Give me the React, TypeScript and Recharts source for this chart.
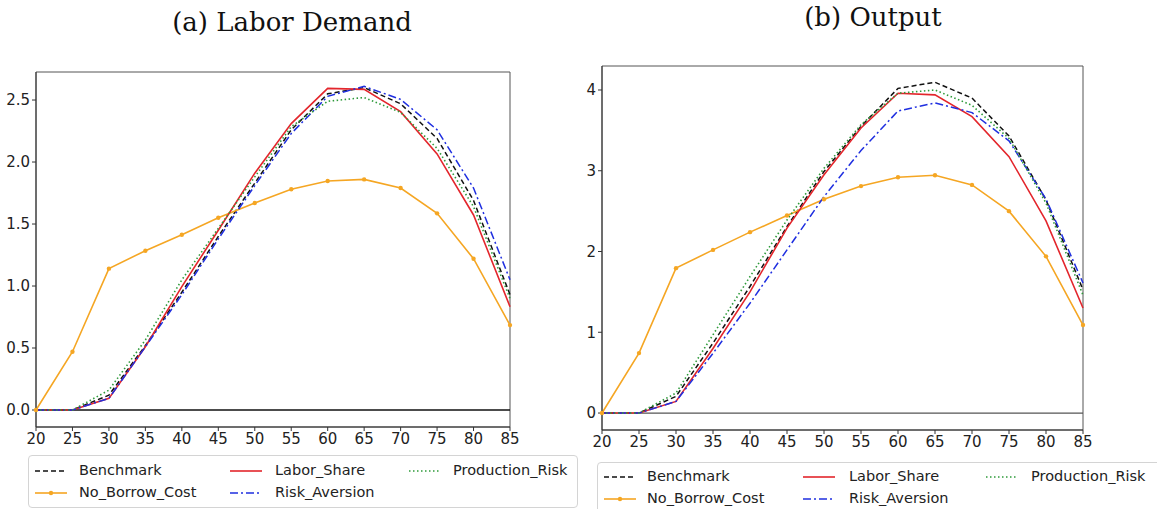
import React from 'react';
import { LineChart, Line, XAxis, YAxis, ReferenceLine, ReferenceArea } from 'recharts';

const ages = [20, 25, 30, 35, 40, 45, 50, 55, 60, 65, 70, 75, 80, 85];
const xTicks = [20, 25, 30, 35, 40, 45, 50, 55, 60, 65, 70, 75, 80, 85];

// (a) Labor Demand
const laborBenchmark = [0, 0, 0.12, 0.52, 0.95, 1.4, 1.83, 2.26, 2.55, 2.6, 2.47, 2.19, 1.69, 0.93];
const laborNoBorrow = [0, 0.47, 1.14, 1.285, 1.414, 1.55, 1.67, 1.78, 1.847, 1.86, 1.79, 1.586, 1.22, 0.685];
const laborLaborShare = [0, 0, 0.094, 0.51, 0.995, 1.45, 1.91, 2.31, 2.594, 2.586, 2.406, 2.065, 1.573, 0.833];
const laborRiskAversion = [0, 0, 0.094, 0.51, 0.93, 1.38, 1.81, 2.23, 2.53, 2.61, 2.505, 2.26, 1.79, 1.05];
const laborProdRisk = [0, 0, 0.16, 0.565, 1.05, 1.465, 1.88, 2.285, 2.49, 2.52, 2.4, 2.11, 1.64, 0.9];
const laborTicks = [0, 0.5, 1, 1.5, 2, 2.5];

// (b) Output
const outBenchmark = [0, 0, 0.206, 0.866, 1.567, 2.31, 2.99, 3.55, 4.02, 4.095, 3.9, 3.43, 2.64, 1.526];
const outNoBorrow = [0, 0.742, 1.794, 2.02, 2.24, 2.445, 2.647, 2.81, 2.92, 2.944, 2.825, 2.5, 1.94, 1.09];
const outLaborShare = [0, 0, 0.144, 0.8, 1.5, 2.29, 2.95, 3.53, 3.96, 3.94, 3.67, 3.175, 2.38, 1.3];
const outRiskAversion = [0, 0, 0.144, 0.74, 1.36, 2.02, 2.68, 3.25, 3.74, 3.84, 3.72, 3.37, 2.65, 1.61];
const outProdRisk = [0, 0, 0.247, 0.97, 1.69, 2.39, 3.03, 3.57, 3.96, 4.0, 3.81, 3.4, 2.6, 1.46];
const outTicks = [0, 1, 2, 3, 4];

const SERIES = [
  { key: 'Benchmark', color: '#111111', dash: '5 3', dot: false, width: 1.5 },
  { key: 'No_Borrow_Cost', color: '#f5a623', dash: undefined, dot: true, width: 1.6 },
  { key: 'Labor_Share', color: '#e3262c', dash: undefined, dot: false, width: 1.6 },
  { key: 'Risk_Aversion', color: '#1f2fe0', dash: '8 3 2 3', dot: false, width: 1.5 },
  { key: 'Production_Risk', color: '#2e9a3a', dash: '1.5 2.5', dot: false, width: 1.6 },
];

function toRows(cols: number[][]) {
  return ages.map((age, i) => ({
    age,
    Benchmark: cols[0][i],
    No_Borrow_Cost: cols[1][i],
    Labor_Share: cols[2][i],
    Risk_Aversion: cols[3][i],
    Production_Risk: cols[4][i],
  }));
}

const laborData = toRows([laborBenchmark, laborNoBorrow, laborLaborShare, laborRiskAversion, laborProdRisk]);
const outputData = toRows([outBenchmark, outNoBorrow, outLaborShare, outRiskAversion, outProdRisk]);

const TICK = { fill: '#222', fontSize: 15, fontFamily: 'DejaVu Sans' };

function Panel({ data, domain, ticks, fmt, width, height, top, zeroColor }: {
  data: any[]; domain: [number, number]; ticks: number[]; fmt: (v: number) => string;
  width: number; height: number; top: number; zeroColor: string;
}) {
  return (
    <LineChart width={width} height={height} data={data} margin={{ top, right: 20, left: 0, bottom: 0 }}>
      <XAxis
        dataKey="age" type="number" domain={[20, 85]} ticks={xTicks} height={24}
        tick={TICK} tickSize={4} tickLine={{ stroke: '#333' }} axisLine={{ stroke: '#333' }}
        interval={0}
      />
      <YAxis
        type="number" domain={domain} ticks={ticks} allowDataOverflow width={36}
        tick={TICK} tickSize={4} tickLine={{ stroke: '#333' }} axisLine={{ stroke: '#333' }}
        tickFormatter={fmt}
      />
      <ReferenceArea x1={20} x2={85} y1={domain[0]} y2={domain[1]} fill="none" stroke="#555" strokeWidth={1} ifOverflow="visible" />
      <ReferenceLine y={0} stroke={zeroColor} strokeWidth={1.3} />
      {SERIES.map((s) => (
        <Line
          key={s.key}
          type="linear"
          dataKey={s.key}
          stroke={s.color}
          strokeWidth={s.width}
          strokeDasharray={s.dash}
          dot={s.dot ? { r: 2.2, fill: s.color, stroke: s.color, strokeWidth: 0 } : false}
          isAnimationActive={false}
        />
      ))}
    </LineChart>
  );
}

function LegendBox({ left, top, width, height, cols, rows }: {
  left: number; top: number; width: number; height: number;
  cols: { handle: number; text: number }[]; rows: number[];
}) {
  const cells = [
    { s: SERIES[0], c: 0, r: 0 },
    { s: SERIES[1], c: 0, r: 1 },
    { s: SERIES[2], c: 1, r: 0 },
    { s: SERIES[3], c: 1, r: 1 },
    { s: SERIES[4], c: 2, r: 0 },
  ];
  return (
    <div style={{ position: 'absolute', left, top, width, height, border: '1px solid #d4d4d4', borderRadius: 4, background: '#fff', boxSizing: 'border-box' }}>
      {cells.map(({ s, c, r }) => (
        <div key={s.key}>
          <svg style={{ position: 'absolute', left: cols[c].handle - left, top: rows[r] - top - 6 }} width={34} height={12}>
            <line x1={1} y1={6} x2={33} y2={6} stroke={s.color} strokeWidth={s.width} strokeDasharray={s.dash} />
            {s.dot && <circle cx={17} cy={6} r={2.2} fill={s.color} />}
          </svg>
          <span style={{ position: 'absolute', left: cols[c].text - left, top: rows[r] - top - 10, fontFamily: 'DejaVu Sans', fontSize: 14.5, color: '#222', lineHeight: '18px', whiteSpace: 'nowrap' }}>
            {s.key}
          </span>
        </div>
      ))}
    </div>
  );
}

export default function App() {
  return (
    <div style={{ position: 'absolute', left: 0, top: 0, width: 1157, height: 509, overflow: 'hidden', background: '#fff' }}>
      <div style={{ position: 'absolute', left: 0, width: 584, top: 7, textAlign: 'center', fontFamily: 'DejaVu Serif', fontSize: 26, color: '#111' }}>
        (a) Labor Demand
      </div>
      <div style={{ position: 'absolute', left: 580, width: 586, top: 2, textAlign: 'center', fontFamily: 'DejaVu Serif', fontSize: 26, color: '#111' }}>
        (b) Output
      </div>

      <div style={{ position: 'absolute', left: 0, top: 0 }}>
        <Panel data={laborData} domain={[-0.137, 2.726]} ticks={laborTicks} fmt={(v) => v.toFixed(1)}
          width={530} height={451} top={72} zeroColor="#111" />
      </div>
      <div style={{ position: 'absolute', left: 566, top: 0 }}>
        <Panel data={outputData} domain={[-0.21, 4.297]} ticks={outTicks} fmt={(v) => String(v)}
          width={537} height={454} top={66} zeroColor="#555" />
      </div>

      <LegendBox left={28} top={455} width={550} height={53}
        cols={[{ handle: 33, text: 78 }, { handle: 228, text: 274 }, { handle: 407, text: 452 }]}
        rows={[470, 492]} />
      <LegendBox left={597} top={462} width={570} height={54}
        cols={[{ handle: 602, text: 646 }, { handle: 801, text: 848 }, { handle: 984, text: 1030 }]}
        rows={[476, 498]} />
    </div>
  );
}
